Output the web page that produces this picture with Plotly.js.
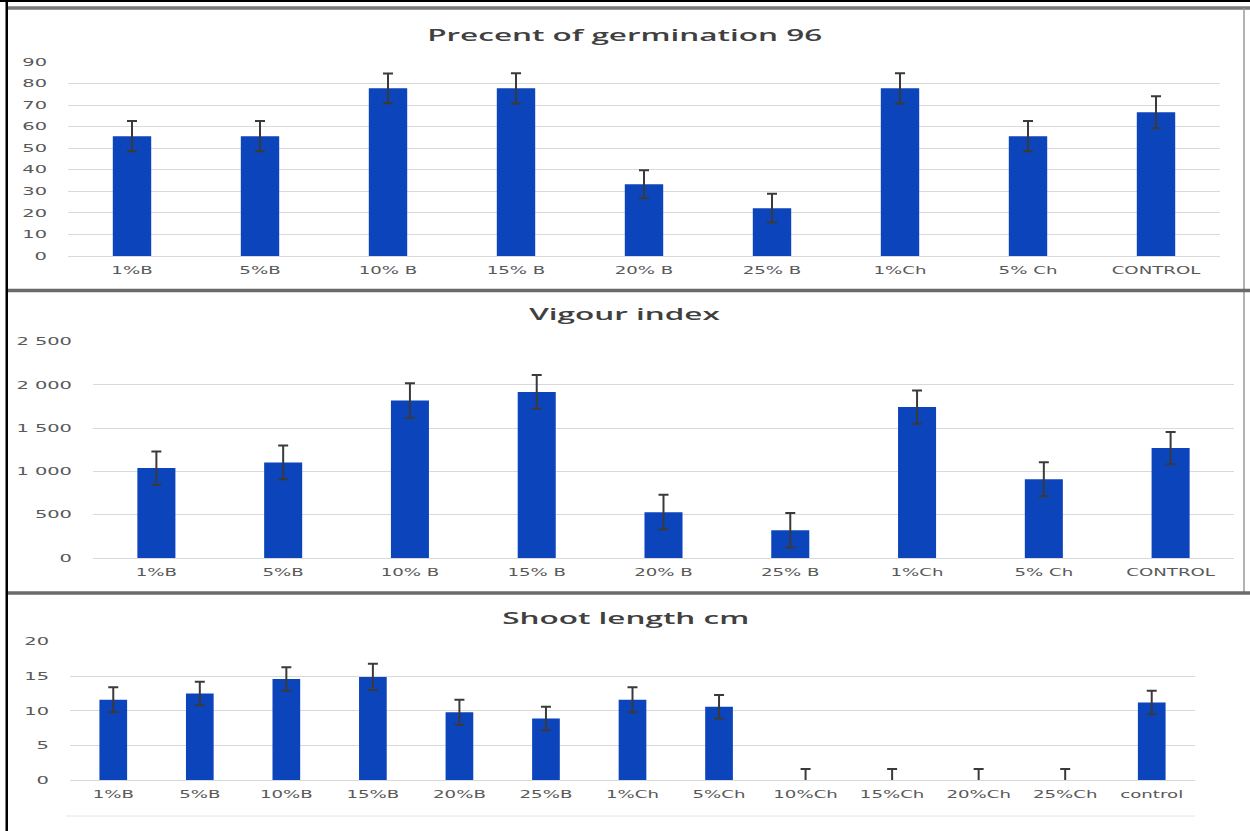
<!DOCTYPE html>
<html>
<head>
<meta charset="utf-8">
<script src="https://cdn.plot.ly/plotly-3.0.1.min.js"></script>
<style>
  html, body { margin: 0; padding: 0; background: #ffffff; }
  #chart { width: 1250px; height: 831px; }
</style>
</head>
<body>
<div id="chart"></div>
<script>
// ---- Data ----
const germCategories = ['1%B', '5%B', '10% B', '15% B', '20% B', '25% B', '1%Ch', '5% Ch', 'CONTROL'];
const germValues     = [55.6, 55.6, 77.8, 77.8, 33.3, 22.2, 77.8, 55.6, 66.7];
const germErrors     = [7.0, 7.0, 6.9, 7.0, 6.5, 6.7, 7.0, 7.0, 7.4];

const vigourCategories = ['1%B', '5%B', '10% B', '15% B', '20% B', '25% B', '1%Ch', '5% Ch', 'CONTROL'];
const vigourValues     = [1040, 1105, 1820, 1920, 530, 320, 1745, 910, 1270];
const vigourErrors     = [192, 196, 200, 195, 200, 200, 192, 196, 185];

const shootCategories = ['1%B', '5%B', '10%B', '15%B', '20%B', '25%B', '1%Ch', '5%Ch', '10%Ch', '15%Ch', '20%Ch', '25%Ch', 'control'];
const shootValues     = [11.6, 12.5, 14.6, 14.9, 9.8, 8.9, 11.6, 10.6, 0, 0, 0, 0, 11.2];
const shootErrors     = [1.8, 1.7, 1.7, 1.9, 1.8, 1.7, 1.8, 1.7, 1.6, 1.6, 1.6, 1.6, 1.7];

const titles = ['Precent of germination 96', 'Vigour index', 'Shoot length cm'];

// ---- Styling ----
const W = 1250, H = 831;
const BAR = '#0c44bb';
const ERR = '#3a3a3a';
const GRID = '#d9d9d9';
const TICK = '#595959';
const px = v => v / W;
const py = v => 1 - v / H;

function barTrace(x, y, err, xa, ya, width, clip) {
  return {
    type: 'bar', x: x, y: y, xaxis: xa, yaxis: ya, width: width,
    marker: { color: BAR, line: { width: 0 } },
    error_y: { type: 'data', array: err, visible: true, color: ERR, thickness: 2, width: 5 },
    cliponaxis: clip, hoverinfo: 'none', showlegend: false
  };
}

const data = [
  barTrace(germCategories, germValues, germErrors, 'x', 'y', 0.3, true),
  barTrace(vigourCategories, vigourValues, vigourErrors, 'x2', 'y2', 0.3, true),
  barTrace(shootCategories, shootValues, shootErrors, 'x3', 'y3', 0.32, false)
];

const xTickFont = { family: 'DejaVu Sans', size: 11, color: TICK };
const yTickFont = { family: 'DejaVu Sans', size: 10.5, color: TICK };

function xAxis(domain, anchor) {
  return {
    domain: domain, anchor: anchor, type: 'category',
    showgrid: false, zeroline: false, showline: false, ticks: '',
    tickfont: xTickFont, ticklabelstandoff: 6, fixedrange: true
  };
}
function yAxis(domain, anchor, range, dtick, fmt) {
  return {
    domain: domain, anchor: anchor, range: range, dtick: dtick, tickformat: fmt,
    showgrid: true, gridcolor: GRID, gridwidth: 1,
    zeroline: true, zerolinecolor: GRID, zerolinewidth: 1,
    showline: false, ticks: '', tickfont: yTickFont, ticklabelstandoff: 20, fixedrange: true
  };
}

const titleFont = { family: 'Open Sans', size: 17, color: '#404040', weight: 600 };

const layout = {
  width: W, height: H,
  margin: { l: 0, r: 0, t: 0, b: 0, pad: 0 },
  paper_bgcolor: '#ffffff', plot_bgcolor: 'rgba(0,0,0,0)',
  separators: '. ',
  showlegend: false,
  xaxis:  xAxis([px(68), px(1220)], 'y'),
  yaxis:  yAxis([py(256), py(62)], 'x', [0, 90], 10, 'd'),
  xaxis2: xAxis([px(93), px(1234)], 'y2'),
  yaxis2: yAxis([py(558), py(341.7)], 'x2', [0, 2500], 500, ',d'),
  xaxis3: xAxis([px(70), px(1195)], 'y3'),
  yaxis3: yAxis([py(780), py(641.7)], 'x3', [0, 20], 5, 'd'),
  annotations: [
    { text: titles[0], xref: 'paper', yref: 'paper', x: 0.5, y: py(35), xanchor: 'center', yanchor: 'middle', showarrow: false, font: titleFont },
    { text: titles[1], xref: 'paper', yref: 'paper', x: 0.5, y: py(313), xanchor: 'center', yanchor: 'middle', showarrow: false, font: titleFont },
    { text: titles[2], xref: 'paper', yref: 'paper', x: 0.5, y: py(617), xanchor: 'center', yanchor: 'middle', showarrow: false, font: titleFont }
  ],
  shapes: [
    // top black rule
    { type: 'rect', xref: 'paper', yref: 'paper', x0: 0, x1: 1, y0: py(2), y1: 1, fillcolor: '#000000', line: { width: 0 }, layer: 'above' },
    // gray rule under it
    { type: 'line', xref: 'paper', yref: 'paper', x0: px(8), x1: 1, y0: py(8), y1: py(8), line: { color: '#7a7a7a', width: 3.5 } },
    // left black border
    { type: 'rect', xref: 'paper', yref: 'paper', x0: px(5.5), x1: px(8), y0: 0, y1: 1, fillcolor: '#000000', line: { width: 0 }, layer: 'above' },
    // right thin border (panels 1-2)
    { type: 'line', xref: 'paper', yref: 'paper', x0: px(1244), x1: px(1244), y0: py(593), y1: py(8), line: { color: '#9a9a9a', width: 1.5 } },
    // panel separators
    { type: 'line', xref: 'paper', yref: 'paper', x0: px(8), x1: 1, y0: py(290.5), y1: py(290.5), line: { color: '#6a6a6a', width: 3.5 } },
    { type: 'line', xref: 'paper', yref: 'paper', x0: px(8), x1: 1, y0: py(593), y1: py(593), line: { color: '#6a6a6a', width: 3.5 } },
    // faint line under the bottom panel's labels
    { type: 'line', xref: 'paper', yref: 'paper', x0: px(66), x1: px(1195), y0: py(816), y1: py(816), line: { color: '#e6e6e6', width: 1 } }
  ]
};

const gd = document.getElementById('chart');
Plotly.newPlot(gd, data, layout, { displayModeBar: false, staticPlot: true }).then(function () {
  // The reference text is horizontally stretched: widen glyphs to match.
  function stretch(selector, factor) {
    gd.querySelectorAll(selector).forEach(function (el) {
      const len = el.getComputedTextLength();
      if (len > 0) {
        el.setAttribute('textLength', (len * factor).toFixed(1));
        el.setAttribute('lengthAdjust', 'spacingAndGlyphs');
      }
    });
  }
  stretch('.xaxislayer-above text', 1.65);
  stretch('.yaxislayer-above text', 1.85);
  // titles: scale so the first title spans ~395 px like the reference
  const tEls = gd.querySelectorAll('.annotation-text');
  if (tEls.length) {
    const f = 395 / tEls[0].getComputedTextLength();
    stretch('.annotation-text', f);
  }
});
</script>
</body>
</html>
